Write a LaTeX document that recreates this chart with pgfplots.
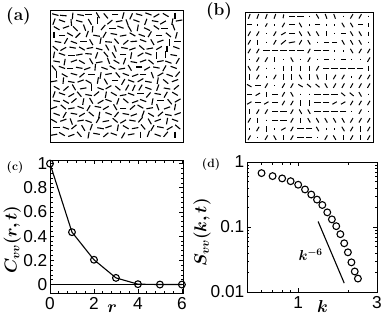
\documentclass[border=0pt]{standalone}
\usepackage{pgfplots}
\pgfplotsset{compat=1.18}
\usepackage{pgfplotstable}
\usepackage{bm}
\usepackage{fontspec}
\setsansfont{Liberation Sans}

\pgfplotstableread[row sep=\\]{
x y a\\
0.04 0.965 -15\\ 0.10 0.958 -5\\ 0.17 0.955 85\\ 0.23 0.962 -10\\ 0.29 0.968 0\\ 0.36 0.960 -60\\ 0.42 0.955 -50\\ 0.49 0.966 0\\ 0.55 0.958 75\\ 0.61 0.952 65\\ 0.67 0.965 -15\\ 0.74 0.970 -20\\ 0.80 0.958 30\\ 0.87 0.962 -30\\ 0.94 0.955 90\\
0.03 0.912 70\\ 0.09 0.918 -20\\ 0.16 0.905 95\\ 0.22 0.915 -15\\ 0.30 0.910 -60\\ 0.36 0.920 90\\ 0.45 0.908 40\\ 0.52 0.915 10\\ 0.58 0.905 -70\\ 0.65 0.918 -20\\ 0.72 0.910 70\\ 0.79 0.915 -10\\ 0.85 0.905 30\\ 0.92 0.912 80\\ 0.97 0.920 10\\
0.05 0.862 -30\\ 0.12 0.870 20\\ 0.19 0.858 -45\\ 0.26 0.866 -70\\ 0.32 0.855 85\\ 0.40 0.868 50\\ 0.47 0.860 0\\ 0.53 0.870 -20\\ 0.60 0.858 -60\\ 0.66 0.865 80\\ 0.73 0.855 -25\\ 0.80 0.868 -35\\ 0.86 0.862 0\\ 0.93 0.870 -70\\
0.03 0.812 90\\ 0.09 0.805 0\\ 0.15 0.815 -30\\ 0.21 0.808 45\\ 0.28 0.818 70\\ 0.35 0.805 -10\\ 0.41 0.812 60\\ 0.48 0.818 -10\\ 0.55 0.806 10\\ 0.62 0.815 -30\\ 0.69 0.808 -20\\ 0.75 0.816 60\\ 0.82 0.805 0\\ 0.89 0.812 -40\\ 0.95 0.808 75\\
0.06 0.758 -10\\ 0.12 0.765 60\\ 0.18 0.755 -20\\ 0.25 0.762 0\\ 0.31 0.756 -60\\ 0.38 0.768 80\\ 0.44 0.758 -5\\ 0.50 0.764 -50\\ 0.57 0.755 40\\ 0.63 0.762 5\\ 0.70 0.768 -20\\ 0.77 0.756 -60\\ 0.83 0.764 20\\ 0.90 0.755 90\\ 0.96 0.762 0\\
0.04 0.710 -40\\ 0.10 0.705 30\\ 0.17 0.715 -10\\ 0.24 0.708 -30\\ 0.30 0.712 10\\ 0.37 0.704 -15\\ 0.43 0.716 -60\\ 0.49 0.708 -70\\ 0.56 0.712 -10\\ 0.62 0.705 20\\ 0.69 0.715 -40\\ 0.75 0.708 10\\ 0.82 0.712 30\\ 0.88 0.705 90\\ 0.95 0.715 -20\\
0.03 0.660 80\\ 0.09 0.665 -20\\ 0.16 0.655 0\\ 0.22 0.662 10\\ 0.29 0.668 -5\\ 0.35 0.656 70\\ 0.42 0.664 -50\\ 0.48 0.658 -60\\ 0.55 0.666 0\\ 0.61 0.655 80\\ 0.68 0.662 30\\ 0.74 0.668 -20\\ 0.80 0.656 90\\ 0.87 0.664 90\\ 0.93 0.658 -10\\
0.05 0.610 -10\\ 0.11 0.605 80\\ 0.18 0.614 20\\ 0.24 0.606 -30\\ 0.31 0.612 -60\\ 0.37 0.604 10\\ 0.44 0.615 -70\\ 0.50 0.608 -30\\ 0.56 0.612 70\\ 0.63 0.605 -10\\ 0.70 0.614 20\\ 0.76 0.606 -40\\ 0.83 0.612 10\\ 0.89 0.605 -20\\ 0.96 0.614 60\\
0.03 0.560 -50\\ 0.09 0.565 -20\\ 0.15 0.555 0\\ 0.22 0.562 -10\\ 0.28 0.556 20\\ 0.34 0.566 85\\ 0.41 0.558 -20\\ 0.47 0.564 -30\\ 0.54 0.555 10\\ 0.60 0.562 -60\\ 0.67 0.568 0\\ 0.73 0.556 30\\ 0.80 0.564 -10\\ 0.86 0.558 60\\ 0.93 0.565 -20\\
0.05 0.510 90\\ 0.11 0.505 -30\\ 0.18 0.514 -15\\ 0.24 0.506 40\\ 0.31 0.512 0\\ 0.38 0.504 80\\ 0.44 0.515 10\\ 0.51 0.508 -50\\ 0.57 0.512 -20\\ 0.64 0.505 20\\ 0.70 0.514 0\\ 0.77 0.506 -70\\ 0.83 0.512 30\\ 0.90 0.505 -20\\ 0.96 0.514 50\\
0.03 0.460 10\\ 0.10 0.465 85\\ 0.16 0.455 -10\\ 0.23 0.462 20\\ 0.29 0.456 -30\\ 0.36 0.466 80\\ 0.42 0.458 -60\\ 0.49 0.464 0\\ 0.55 0.455 60\\ 0.61 0.462 -20\\ 0.68 0.468 30\\ 0.74 0.456 -10\\ 0.81 0.464 80\\ 0.87 0.458 -40\\ 0.94 0.465 20\\
0.05 0.410 -30\\ 0.12 0.405 40\\ 0.18 0.414 -60\\ 0.25 0.406 10\\ 0.31 0.412 90\\ 0.38 0.404 -20\\ 0.44 0.415 30\\ 0.51 0.408 -40\\ 0.58 0.412 60\\ 0.63 0.410 65\\ 0.68 0.412 60\\ 0.74 0.406 -20\\ 0.81 0.412 70\\ 0.88 0.405 -10\\ 0.95 0.414 40\\
0.03 0.360 70\\ 0.09 0.365 -20\\ 0.16 0.355 30\\ 0.22 0.362 -50\\ 0.29 0.356 -10\\ 0.35 0.366 40\\ 0.42 0.358 80\\ 0.48 0.364 -30\\ 0.55 0.355 10\\ 0.61 0.362 -20\\ 0.68 0.368 0\\ 0.74 0.356 50\\ 0.81 0.364 -10\\ 0.87 0.358 60\\ 0.94 0.365 -30\\
0.05 0.310 -10\\ 0.12 0.305 -30\\ 0.18 0.314 40\\ 0.25 0.306 80\\ 0.31 0.312 -60\\ 0.38 0.304 30\\ 0.44 0.315 -20\\ 0.51 0.308 70\\ 0.57 0.312 -40\\ 0.64 0.305 20\\ 0.70 0.314 -20\\ 0.77 0.306 80\\ 0.83 0.312 0\\ 0.90 0.305 -50\\ 0.96 0.314 30\\
0.03 0.260 20\\ 0.10 0.265 -40\\ 0.16 0.255 10\\ 0.23 0.262 -20\\ 0.29 0.256 60\\ 0.36 0.266 -10\\ 0.42 0.258 30\\ 0.49 0.264 -60\\ 0.55 0.255 0\\ 0.62 0.262 40\\ 0.68 0.268 -30\\ 0.75 0.256 10\\ 0.81 0.264 -70\\ 0.88 0.258 20\\ 0.94 0.265 80\\
0.05 0.210 -20\\ 0.11 0.205 60\\ 0.18 0.214 -10\\ 0.24 0.206 30\\ 0.31 0.212 -40\\ 0.37 0.204 80\\ 0.44 0.215 -20\\ 0.50 0.208 50\\ 0.57 0.212 -10\\ 0.63 0.205 20\\ 0.70 0.214 70\\ 0.76 0.206 -30\\ 0.83 0.212 40\\ 0.89 0.205 -10\\ 0.96 0.214 20\\
0.03 0.160 -30\\ 0.10 0.165 20\\ 0.16 0.155 -70\\ 0.23 0.162 10\\ 0.29 0.156 -20\\ 0.36 0.166 60\\ 0.42 0.158 10\\ 0.49 0.164 -40\\ 0.55 0.155 30\\ 0.62 0.162 -10\\ 0.68 0.168 50\\ 0.75 0.156 -60\\ 0.81 0.164 20\\ 0.88 0.158 80\\ 0.94 0.165 -20\\
0.05 0.110 0\\ 0.12 0.105 -20\\ 0.18 0.114 40\\ 0.25 0.106 -60\\ 0.31 0.112 70\\ 0.38 0.104 -10\\ 0.44 0.115 20\\ 0.51 0.108 80\\ 0.57 0.112 -30\\ 0.64 0.105 10\\ 0.70 0.114 -50\\ 0.77 0.106 60\\ 0.83 0.112 -10\\ 0.90 0.105 30\\ 0.96 0.114 -40\\
0.03 0.055 10\\ 0.09 0.060 -30\\ 0.16 0.050 20\\ 0.22 0.058 -50\\ 0.29 0.052 80\\ 0.35 0.062 -10\\ 0.42 0.054 40\\ 0.48 0.060 -20\\ 0.55 0.050 60\\ 0.61 0.058 10\\ 0.68 0.054 90\\ 0.74 0.062 70\\ 0.81 0.052 -20\\ 0.87 0.058 50\\ 0.94 0.054 90\\
}\dirA

\pgfplotstableread[row sep=\\]{
i j a l\\
1 15 70 4\\ 2 15 70 4\\ 3 15 70 4\\ 4 15 70 4\\ 5 15 80 3\\ 6 15 0 5\\ 7 15 0 5\\ 8 15 90 1.2\\ 9 15 -60 4\\ 10 15 -70 4\\ 11 15 -70 4\\ 12 15 90 1.2\\ 13 15 60 4\\ 14 15 60 4\\ 15 15 90 1.2\\
1 14 0 4\\ 2 14 90 1.2\\ 3 14 60 3\\ 4 14 90 1.2\\ 5 14 60 4\\ 6 14 0 5\\ 7 14 -60 4\\ 8 14 90 1.2\\ 9 14 0 4\\ 10 14 90 1.2\\ 11 14 90 1.2\\ 12 14 -60 4\\ 13 14 -60 4\\ 14 14 0 4\\ 15 14 90 3\\
1 13 60 4\\ 2 13 60 4\\ 3 13 90 1.2\\ 4 13 60 4\\ 5 13 30 4\\ 6 13 0 5\\ 7 13 -60 4\\ 8 13 -60 4\\ 9 13 -60 4\\ 10 13 90 4\\ 11 13 90 1.2\\ 12 13 0 4\\ 13 13 -60 4\\ 14 13 -60 4\\ 15 13 90 3\\
1 12 60 4\\ 2 12 90 4\\ 3 12 90 1.2\\ 4 12 60 4\\ 5 12 40 5\\ 6 12 10 5\\ 7 12 60 4\\ 8 12 -60 4\\ 9 12 90 1.2\\ 10 12 0 4\\ 11 12 0 4\\ 12 12 -60 4\\ 13 12 -60 4\\ 14 12 -60 4\\ 15 12 90 1.2\\
1 11 60 4\\ 2 11 60 4\\ 3 11 0 5\\ 4 11 0 5\\ 5 11 0 5\\ 6 11 0 5\\ 7 11 0 5\\ 8 11 60 4\\ 9 11 0 5\\ 10 11 0 5\\ 11 11 90 1.2\\ 12 11 90 1.2\\ 13 11 -60 4\\ 14 11 60 4\\ 15 11 60 4\\
1 10 90 1.2\\ 2 10 60 4\\ 3 10 60 4\\ 4 10 90 4\\ 5 10 90 1.2\\ 6 10 -60 4\\ 7 10 90 1.2\\ 8 10 60 4\\ 9 10 90 1.2\\ 10 10 0 4\\ 11 10 90 1.2\\ 12 10 0 4\\ 13 10 90 1.2\\ 14 10 90 1.2\\ 15 10 60 4\\
1 9 -60 4\\ 2 9 60 4\\ 3 9 90 1.2\\ 4 9 90 1.2\\ 5 9 90 4\\ 6 9 90 4\\ 7 9 90 4\\ 8 9 90 4\\ 9 9 60 4\\ 10 9 0 5\\ 11 9 0 5\\ 12 9 0 5\\ 13 9 0 5\\ 14 9 0 5\\ 15 9 90 4\\
1 8 90 4\\ 2 8 60 4\\ 3 8 90 1.2\\ 4 8 60 4\\ 5 8 90 4\\ 6 8 90 4\\ 7 8 -60 4\\ 8 8 90 4\\ 9 8 -70 4\\ 10 8 90 4\\ 11 8 60 4\\ 12 8 60 4\\ 13 8 90 1.2\\ 14 8 60 4\\ 15 8 60 4\\
1 7 -30 4\\ 2 7 0 5\\ 3 7 60 4\\ 4 7 90 1.2\\ 5 7 60 4\\ 6 7 60 4\\ 7 7 -30 4\\ 8 7 -40 4\\ 9 7 -40 4\\ 10 7 -60 4\\ 11 7 60 4\\ 12 7 60 4\\ 13 7 60 4\\ 14 7 60 4\\ 15 7 60 4\\
1 6 0 4\\ 2 6 30 4\\ 3 6 90 4\\ 4 6 0 5\\ 5 6 60 4\\ 6 6 -60 4\\ 7 6 90 1.2\\ 8 6 90 1.2\\ 9 6 0 5\\ 10 6 0 5\\ 11 6 0 5\\ 12 6 -40 4\\ 13 6 -40 4\\ 14 6 -60 4\\ 15 6 90 1.2\\
1 5 30 4\\ 2 5 0 5\\ 3 5 30 4\\ 4 5 0 5\\ 5 5 60 4\\ 6 5 60 4\\ 7 5 90 4\\ 8 5 90 4\\ 9 5 0 5\\ 10 5 0 5\\ 11 5 30 4\\ 12 5 30 4\\ 13 5 60 4\\ 14 5 60 4\\ 15 5 60 4\\
1 4 90 4\\ 2 4 60 4\\ 3 4 60 4\\ 4 4 0 5\\ 5 4 0 5\\ 6 4 60 4\\ 7 4 -60 4\\ 8 4 -60 4\\ 9 4 0 5\\ 10 4 0 5\\ 11 4 0 5\\ 12 4 0 5\\ 13 4 90 1.2\\ 14 4 60 4\\ 15 4 90 1.2\\
1 3 60 4\\ 2 3 90 4\\ 3 3 90 1.2\\ 4 3 0 5\\ 5 3 0 5\\ 6 3 60 4\\ 7 3 90 4\\ 8 3 -60 4\\ 9 3 -60 4\\ 10 3 -60 4\\ 11 3 -60 4\\ 12 3 -60 4\\ 13 3 60 4\\ 14 3 60 4\\ 15 3 60 4\\
1 2 90 1.2\\ 2 2 60 4\\ 3 2 90 4\\ 4 2 90 1.2\\ 5 2 30 4\\ 6 2 60 4\\ 7 2 0 5\\ 8 2 0 5\\ 9 2 -60 4\\ 10 2 90 1.2\\ 11 2 90 1.2\\ 12 2 -60 4\\ 13 2 60 4\\ 14 2 90 4\\ 15 2 60 4\\
1 1 60 4\\ 2 1 90 1.2\\ 3 1 60 4\\ 4 1 -60 4\\ 5 1 90 4\\ 6 1 60 4\\ 7 1 0 5\\ 8 1 0 5\\ 9 1 90 1.2\\ 10 1 60 4\\ 11 1 -60 4\\ 12 1 90 4\\ 13 1 60 4\\ 14 1 90 4\\ 15 1 60 4\\
}\dirB

\begin{document}
\begin{tikzpicture}
\useasboundingbox (0pt,0pt) rectangle (382pt,316pt);
% (a)
\begin{axis}[scale only axis, anchor=south west, at={(50pt,174pt)}, width=133pt, height=132pt,
  xmin=0, xmax=1, ymin=0, ymax=1, ticks=none, axis line style={line width=0.9pt}]
\addplot[scatter, only marks, mark=-, mark size=3.3pt, line width=1.1pt,
  scatter/use mapped color={draw=black, fill=black}, point meta=0,
  visualization depends on={\thisrow{a} \as \ang},
  scatter/@pre marker code/.append style={/tikz/rotate=\ang}]
  table[x=x, y=y]{\dirA};
\end{axis}
% (b)
\begin{axis}[scale only axis, anchor=south west, at={(245pt,174pt)}, width=128pt, height=130pt,
  xmin=0, xmax=1, ymin=0, ymax=1, ticks=none, axis line style={line width=0.9pt}]
\addplot[scatter, only marks, mark=-, line width=1pt,
  scatter/use mapped color={draw=black, fill=black}, point meta=0,
  visualization depends on={\thisrow{a} \as \ang},
  visualization depends on={\thisrow{l} \as \len},
  scatter/@pre marker code/.append style={/tikz/rotate=\ang, /tikz/mark size=\len*0.64pt}]
  table[x expr=(\thisrow{i}-0.5)/15, y expr=(\thisrow{j}-0.5)/15]{\dirB};
\end{axis}
% (c)
\begin{axis}[scale only axis, anchor=south west, at={(50pt,23pt)}, width=133pt, height=133pt,
  axis line style={line width=1pt},
  tick style={black, line width=0.7pt},
  major tick length=4pt, minor tick length=2.5pt,
  tick label style={font=\sffamily\LARGE, inner sep=0.5pt},
  xticklabel style={yshift=-3.5pt},
  yticklabel style={xshift=-2pt},
  xmin=0, xmax=6.05, ymin=-0.07, ymax=1.03,
  xtick={0,2,4,6}, xticklabels={0,2,4,6}, minor x tick num=4,
  ytick={0,0.2,0.4,0.6,0.8,1}, yticklabels={0,0.2,0.4,0.6,0.8,1}, minor y tick num=4,
  xlabel={$\bm{r}$}, ylabel={$\bm{C_{vv}(r,t)}$},
  label style={font=\LARGE},
  xlabel style={at={(axis description cs:0.467,-0.115)}, anchor=center},
  ylabel style={at={(axis description cs:-0.283,0.40)}, anchor=center}]
\addplot[black, line width=1pt] coordinates {(0,0) (6.05,0)};
\addplot[black, line width=1.1pt, mark=o, mark size=3.4pt, mark options={line width=1.1pt}]
  coordinates {(0,1) (1,0.433) (2,0.205) (3,0.055) (4,0.003) (5,0) (6,0)};
\end{axis}
% (d)
\begin{axis}[scale only axis, anchor=south west, at={(247pt,24pt)}, width=130pt, height=130pt,
  axis line style={line width=1pt},
  tick style={black, line width=0.7pt},
  major tick length=4pt, minor tick length=2.5pt,
  tick label style={font=\sffamily\LARGE, inner sep=0.5pt},
  xticklabel style={yshift=-3.5pt},
  yticklabel style={xshift=-2pt},
  xmode=log, ymode=log, xmin=0.49, xmax=3, ymin=0.01, ymax=1,
  xtick={1,3}, xticklabels={1,3}, minor xtick={0.6,0.7,0.8,0.9,2},
  ytick={0.01,0.1,1}, yticklabels={0.01,0.1,1},
  xlabel={$\bm{k}$}, ylabel={$\bm{S_{vv}(k,t)}$},
  label style={font=\LARGE},
  xlabel style={at={(axis description cs:0.581,-0.112)}, anchor=center},
  ylabel style={at={(axis description cs:-0.346,0.458)}, anchor=center}]
\addplot[only marks, black, mark=o, mark size=3.4pt, mark options={line width=1.1pt}]
  coordinates {(0.6,0.675) (0.7,0.607) (0.8,0.559) (0.9,0.507) (1.0,0.447) (1.1,0.378) (1.2,0.316) (1.3,0.264) (1.4,0.218) (1.5,0.168) (1.6,0.131) (1.7,0.103) (1.8,0.0776) (1.9,0.0562) (2.0,0.0408) (2.1,0.0286) (2.2,0.0207) (2.3,0.0161)};
\addplot[black, line width=1.1pt] coordinates {(1.32,0.1217) (1.9,0.0137)};
\node[font=\Large] at (axis cs:1.19,0.037) {$\bm{k^{-6}}$};
\end{axis}
\node[font=\LARGE\bfseries] at (18.5pt,299.5pt) {(a)};
\node[font=\LARGE\bfseries] at (219pt,304.5pt) {(b)};
\node[font=\large\bfseries] at (15pt,148.7pt) {(c)};
\node[font=\large\bfseries] at (211pt,151pt) {(d)};
\end{tikzpicture}
\end{document}
